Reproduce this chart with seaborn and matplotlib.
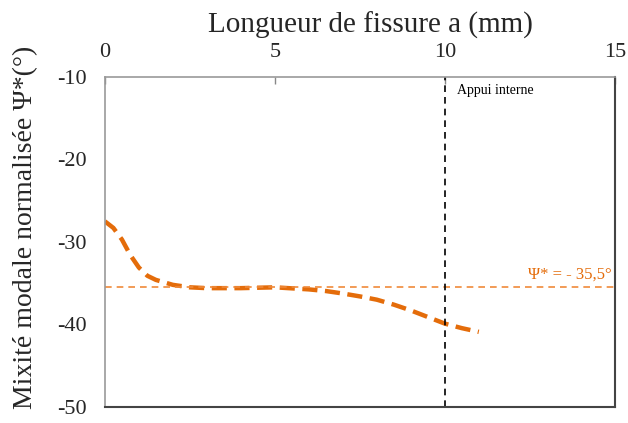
import matplotlib
matplotlib.use("Agg")
import matplotlib.pyplot as plt
import seaborn as sns
import pandas as pd

# Crack length (mm) and normalised mode mixity (deg)
crack_length = [0, 0.25, 0.5, 0.75, 1, 1.25, 1.5, 2, 2.5, 3, 4, 5, 6, 6.5,
                7, 7.5, 8, 8.5, 9, 9.5, 10, 10.5, 11]
mixity = [-27.5, -28.3, -29.7, -31.6, -33.1, -34.1, -34.6, -35.2, -35.5,
          -35.6, -35.6, -35.5, -35.75, -35.95, -36.25, -36.6, -37.0, -37.6,
          -38.3, -39.1, -39.9, -40.45, -40.9]
psi_ref = -35.5
support_x = 10
x_ticks = [0, 5, 10, 15]
y_ticks = [-10, -20, -30, -40, -50]

df = pd.DataFrame({"a": crack_length, "psi": mixity})

sns.set_theme(style="white")
plt.rcParams["font.family"] = ["Liberation Serif", "DejaVu Serif"]

fig = plt.figure(figsize=(6.28, 4.23), dpi=100)
ax = fig.add_axes([0.167, 0.038, 0.812, 0.780])

orange = "#E46C0A"
sns.lineplot(data=df, x="a", y="psi", ax=ax, color=orange, linewidth=3.2,
             linestyle=(0, (3.4, 1.7)), solid_capstyle="butt")

ax.axhline(psi_ref, color="#F08A3A", linewidth=1.2, linestyle=(0, (4, 3)))
ax.axvline(support_x, color="black", linewidth=1.2, linestyle=(0, (4, 3)))

ax.set_xlim(0, 15)
ax.set_ylim(-50, -10)
ax.set_xticks(x_ticks)
ax.set_yticks(y_ticks)
ax.set_xticklabels([str(v) for v in x_ticks], fontsize=16)
ax.set_yticklabels([str(v) for v in y_ticks], fontsize=16)

ax.xaxis.tick_top()
ax.xaxis.set_label_position("top")
ax.tick_params(axis="x", direction="in", length=5, width=1, color="#888888",
               pad=11, top=True, bottom=False)
ax.tick_params(axis="y", length=0, pad=13)

for side in ["left", "top"]:
    ax.spines[side].set_color("#999999")
    ax.spines[side].set_linewidth(1.2)
for side in ["right", "bottom"]:
    ax.spines[side].set_color("#444444")
    ax.spines[side].set_linewidth(1.5)

ax.set_xlabel("Longueur de fissure a (mm)", fontsize=21)
ax.xaxis.set_label_coords(0.52, 1.135)
ax.set_ylabel("Mixité modale normalisée Ψ*(°)", fontsize=20)
ax.yaxis.set_label_coords(-0.130, 0.545)

ax.text(14.9, psi_ref + 0.6, "Ψ* = - 35,5°", color=orange, fontsize=12,
        ha="right", va="bottom")
ax.text(10.35, -11.6, "Appui interne", color="black", fontsize=10,
        ha="left", va="center")

fig.savefig("out.png", dpi=100)
